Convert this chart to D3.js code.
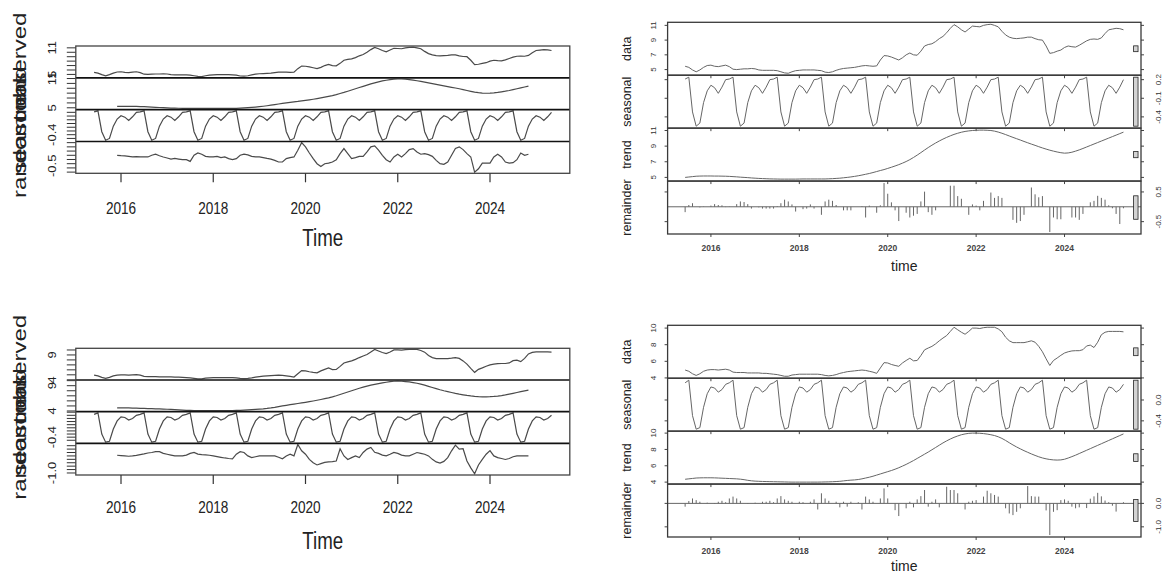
<!DOCTYPE html>
<html>
<head>
<meta charset="utf-8">
<title>decomposition</title>
<style>
  html, body { margin: 0; padding: 0; background: #fff; }
  svg { display: block; font-family: "Liberation Sans", Arial, sans-serif; }
</style>
</head>
<body>
<svg width="1164" height="573"></svg>
<script src="https://cdn.jsdelivr.net/npm/d3@7/dist/d3.min.js"></script>
<script>
// monthly series, first value is June 2015, last is May 2025
const startYear = 2015, startMonth = 6;
const maOffset = 6; // moving average trend / random start 6 months later

// ---- series A (top row) ----
const obsA = [
  5.45, 5.3, 4.95, 4.7, 4.95, 5.3, 5.55,
  5.6, 5.45, 5.4, 5.5, 5.6, 5.4, 5.05, 5.0, 5.05, 5.1, 5.1, 5.15,
  5.1, 4.95, 4.9, 4.9, 4.9, 4.9, 4.85, 4.7, 4.55, 4.5, 4.7, 4.85,
  4.9, 4.95, 4.95, 4.95, 4.95, 4.9, 4.85, 4.65, 4.6, 4.7, 4.9, 5.05,
  5.15, 5.2, 5.25, 5.3, 5.4, 5.5, 5.55, 5.5, 5.45, 5.5, 6.3, 6.9,
  6.85, 6.7, 6.5, 6.3, 6.6, 7.0, 7.25, 7.0, 6.95, 7.5, 8.2, 8.4,
  8.5, 8.8, 9.2, 9.5, 10.0, 10.6, 11.1, 10.8, 10.4, 10.1, 10.5, 10.9,
  10.85, 10.8, 11.0, 11.1, 11.15, 11.0, 10.8, 10.2, 9.7, 9.4, 9.25, 9.2,
  9.25, 9.3, 9.4, 9.4, 9.2, 9.05, 9.0, 8.2, 7.2, 7.3, 7.5, 7.65,
  8.0, 8.2, 8.1, 8.05, 8.3, 8.6, 8.9, 9.1, 9.15, 9.1, 9.3, 9.9,
  10.4, 10.5, 10.6, 10.55, 10.4
];
// seasonal figure, Jan..Dec
const seasA = [0.11, 0.07, -0.02, 0.08, 0.2, 0.21, 0.24, -0.32, -0.55, -0.5, -0.17, 0.02];
// decompose(): moving average trend and random, Dec 2015 .. Nov 2024
const maTrendA = [
  5.3,
  5.3, 5.3, 5.29, 5.28, 5.27, 5.25, 5.22, 5.18, 5.14, 5.1, 5.06, 5.02,
  4.98, 4.95, 4.93, 4.91, 4.9, 4.89, 4.88, 4.87, 4.86, 4.86, 4.86, 4.86,
  4.86, 4.86, 4.86, 4.86, 4.87, 4.88, 4.9, 4.93, 4.97, 5.02, 5.08, 5.15,
  5.23, 5.32, 5.42, 5.53, 5.65, 5.78, 5.9, 6.0, 6.1, 6.2, 6.3, 6.42,
  6.52, 6.63, 6.75, 6.88, 7.02, 7.17, 7.33, 7.5, 7.7, 7.92, 8.15, 8.4,
  8.65, 8.9, 9.15, 9.4, 9.65, 9.9, 10.12, 10.32, 10.5, 10.65, 10.78, 10.86,
  10.9, 10.9, 10.86, 10.78, 10.67, 10.54, 10.4, 10.25, 10.1, 9.95, 9.8, 9.65,
  9.5, 9.35, 9.2, 9.05, 8.9, 8.72, 8.55, 8.38, 8.22, 8.1, 8.02, 7.98,
  8.0, 8.06, 8.15, 8.27, 8.4, 8.55, 8.72, 8.9, 9.08, 9.26, 9.45
];
const randomA = [
  0.0,
  -0.02, -0.03, -0.05, -0.08, -0.06, -0.08, -0.08, -0.08, 0.0, 0.05, -0.02, -0.08,
  -0.13, -0.18, -0.15, -0.18, -0.21, -0.21, -0.29, 0.0, 0.11, 0.05, -0.05, -0.08,
  -0.08, -0.05, -0.11, -0.08, -0.16, -0.21, -0.16, 0.0, 0.05, 0.02, -0.05, -0.08,
  -0.08, -0.11, -0.15, -0.18, -0.24, -0.32, -0.32, -0.16, -0.11, -0.08, 0.24, 0.6,
  0.4, 0.11, -0.16, -0.4, -0.53, -0.4, -0.37, -0.32, -0.21, 0.08, 0.32, 0.08,
  -0.16, -0.11, -0.05, -0.05, 0.16, 0.4, 0.45, 0.24, 0.0, -0.21, -0.32, -0.08,
  0.05, -0.08, 0.08, 0.27, 0.32, 0.16, 0.05, 0.08, 0.03, -0.05, -0.24, -0.4,
  -0.43, -0.32, 0.0, 0.32, 0.4, 0.27, 0.08, -0.08, -0.8, -0.64, -0.37, -0.37,
  -0.37, -0.08, 0.05, -0.08, -0.32, -0.37, -0.35, -0.21, 0.11, 0.0, 0.05
];
// stl(): trend and remainder, full length
const stlTrendA = [
  5.0, 5.05, 5.1, 5.15, 5.17, 5.18, 5.18,
  5.18, 5.17, 5.17, 5.16, 5.15, 5.13, 5.1, 5.07, 5.03, 5.0, 4.97, 4.93,
  4.9, 4.87, 4.85, 4.83, 4.81, 4.8, 4.79, 4.78, 4.78, 4.78, 4.78, 4.78,
  4.79, 4.8, 4.8, 4.8, 4.8, 4.8, 4.8, 4.8, 4.82, 4.84, 4.87, 4.9,
  4.95, 5.0, 5.06, 5.13, 5.21, 5.3, 5.4, 5.5, 5.62, 5.75, 5.88, 6.0,
  6.15, 6.3, 6.46, 6.63, 6.82, 7.03, 7.27, 7.55, 7.85, 8.17, 8.5, 8.82,
  9.12, 9.4, 9.66, 9.9, 10.12, 10.32, 10.5, 10.65, 10.78, 10.88, 10.95, 11.0,
  11.03, 11.05, 11.05, 11.03, 11.0, 10.92, 10.8, 10.65, 10.48, 10.3, 10.12, 9.95,
  9.78, 9.6, 9.43, 9.26, 9.1, 8.93, 8.77, 8.62, 8.48, 8.36, 8.25, 8.16,
  8.1, 8.13, 8.22, 8.36, 8.52, 8.7, 8.89, 9.08, 9.27, 9.46, 9.65, 9.84,
  10.03, 10.22, 10.41, 10.6, 10.79
];
const stlRemA = [
  -0.18, 0.06, 0.12, 0.0, -0.02, 0.01, 0.0,
  0.04, 0.09, 0.06, 0.05, -0.01, 0.01, 0.0, 0.09, 0.18, 0.16, 0.09, -0.06,
  0.0, -0.02, -0.06, -0.06, -0.06, -0.06, 0.02, 0.12, 0.24, 0.18, 0.08, -0.16,
  0.0, -0.08, -0.06, 0.08, -0.06, 0.0, -0.27, 0.18, 0.24, 0.2, 0.06, 0.0,
  -0.12, -0.12, -0.12, 0.0, 0.0, 0.02, -0.36, 0.04, 0.0, -0.2, 0.05, 0.8,
  0.44, 0.15, -0.12, -0.48, 0.0, -0.2, -0.36, -0.3, -0.24, 0.18, 0.51, -0.18,
  -0.27, -0.12, 0.0, 0.0, 0.0, 0.71, 0.71, 0.36, 0.27, 0.0, -0.27, 0.08,
  0.04, -0.12, 0.2, 0.0, 0.48, 0.3, 0.36, 0.3, 0.0, 0.0, -0.44, -0.54,
  -0.48, -0.27, 0.0, 0.65, 0.42, 0.32, 0.36, 0.0, -0.85, -0.36, -0.42, -0.42,
  0.0, 0.0, -0.36, -0.36, -0.44, -0.24, 0.0, 0.15, 0.2, 0.37, 0.3, 0.24,
  0.05, -0.05, -0.24, -0.58, -0.05
];

// ---- series B (bottom row) ----
const obsB = [
  4.95, 4.8, 4.5, 4.3, 4.5, 4.8, 4.95,
  5.0, 5.0, 4.95, 5.0, 5.05, 4.95, 4.7, 4.65, 4.65, 4.65, 4.6, 4.6,
  4.6, 4.6, 4.55, 4.55, 4.5, 4.45, 4.4, 4.3, 4.2, 4.2, 4.35, 4.4,
  4.45, 4.45, 4.45, 4.45, 4.45, 4.45, 4.4, 4.3, 4.25, 4.3, 4.4, 4.55,
  4.65, 4.75, 4.8, 4.85, 4.9, 4.95, 4.9, 4.8, 4.7, 4.55, 5.2, 5.84,
  5.8, 5.62, 5.5, 5.4, 5.8, 6.1, 6.37, 6.06, 6.1, 6.7, 7.38, 7.6,
  7.8, 8.1, 8.47, 8.8, 9.1, 9.6, 10.1, 9.8, 9.5, 9.26, 9.6, 10.0,
  10.0, 9.95, 10.05, 10.1, 10.1, 10.1, 9.9, 9.56, 8.9, 8.47, 8.25, 8.25,
  8.25, 8.25, 8.35, 8.47, 8.3, 7.8, 7.15, 6.3, 5.5, 6.1, 6.4, 6.72,
  7.0, 7.15, 7.25, 7.28, 7.28, 7.4, 7.85, 7.95, 7.66, 8.3, 9.2, 9.5,
  9.6, 9.6, 9.6, 9.6, 9.55
];
const seasB = [0.25, 0.23, 0.15, 0.2, 0.3, 0.33, 0.38, -0.3, -0.56, -0.53, -0.14, 0.12];
const maTrendB = [
  4.63,
  4.63, 4.62, 4.6, 4.58, 4.56, 4.53, 4.5, 4.47, 4.45, 4.43, 4.41, 4.38,
  4.34, 4.3, 4.25, 4.2, 4.16, 4.13, 4.11, 4.1, 4.1, 4.1, 4.1, 4.1,
  4.1, 4.1, 4.1, 4.1, 4.1, 4.1, 4.11, 4.13, 4.16, 4.2, 4.25, 4.3,
  4.36, 4.42, 4.5, 4.6, 4.72, 4.86, 5.0, 5.12, 5.24, 5.36, 5.48, 5.6,
  5.72, 5.85, 5.98, 6.12, 6.27, 6.43, 6.6, 6.8, 7.02, 7.26, 7.5, 7.75,
  8.0, 8.25, 8.5, 8.72, 8.92, 9.1, 9.26, 9.4, 9.55, 9.68, 9.8, 9.88,
  9.9, 9.88, 9.82, 9.74, 9.62, 9.48, 9.3, 9.1, 8.88, 8.65, 8.42, 8.2,
  8.0, 7.82, 7.65, 7.48, 7.33, 7.2, 7.08, 6.98, 6.9, 6.84, 6.8, 6.8,
  6.82, 6.87, 6.95, 7.05, 7.17, 7.32, 7.48, 7.65, 7.82, 7.98, 8.12
];
const randomB = [
  0.04,
  0.02, 0.0, -0.02, 0.0, 0.03, 0.08, 0.12, 0.17, 0.2, 0.25, 0.25, 0.15,
  0.1, 0.05, 0.0, 0.0, 0.0, 0.05, 0.15, 0.21, 0.11, 0.08, 0.06, 0.04,
  0.0, -0.04, -0.08, -0.12, -0.15, -0.17, 0.1, 0.25, 0.2, 0.0, -0.1, -0.05,
  0.0, 0.0, 0.0, 0.0, 0.0, -0.08, -0.17, 0.0, 0.1, 0.0, 0.67, 0.3,
  0.1, -0.2, -0.4, -0.53, -0.45, -0.38, -0.35, -0.33, -0.3, 0.42, 0.0, -0.21,
  -0.1, 0.0, -0.1, 0.2, 0.4, 0.5, 0.21, 0.15, 0.05, 0.0, 0.1, 0.21,
  0.15, 0.05, 0.0, 0.0, 0.1, 0.2, 0.15, 0.1, 0.0, -0.2, -0.35, -0.42,
  -0.32, -0.1, 0.3, 0.63, 0.4, 0.42, -0.3, -0.7, -1.05, -0.53, -0.2, 0.1,
  0.31, 0.0, -0.1, -0.15, -0.21, -0.15, -0.05, 0.0, 0.0, 0.0, 0.0
];
const stlTrendB = [
  4.35, 4.4, 4.45, 4.5, 4.52, 4.53, 4.53,
  4.53, 4.52, 4.5, 4.48, 4.46, 4.44, 4.42, 4.4, 4.36, 4.3, 4.22, 4.16,
  4.12, 4.1, 4.08, 4.07, 4.06, 4.05, 4.04, 4.03, 4.02, 4.01, 4.0, 4.0,
  4.0, 4.0, 4.0, 4.0, 4.0, 4.0, 4.01, 4.02, 4.03, 4.05, 4.07, 4.1,
  4.15, 4.2, 4.24, 4.27, 4.32, 4.4, 4.5, 4.6, 4.72, 4.86, 5.0, 5.14,
  5.28, 5.42, 5.58, 5.76, 5.96, 6.17, 6.4, 6.64, 6.9, 7.16, 7.42, 7.68,
  7.96, 8.24, 8.52, 8.8, 9.05, 9.28, 9.48, 9.65, 9.8, 9.9, 9.97, 10.0,
  10.0, 9.98, 9.94, 9.88, 9.8, 9.7, 9.55, 9.35, 9.1, 8.82, 8.55, 8.3,
  8.07, 7.85, 7.65, 7.45, 7.27, 7.1, 6.96, 6.85, 6.77, 6.72, 6.7, 6.72,
  6.8, 6.95, 7.12, 7.3, 7.5, 7.7, 7.9, 8.1, 8.3, 8.5, 8.7, 8.9,
  9.1, 9.3, 9.5, 9.7, 9.9
];
const stlRemB = [
  -0.14, 0.1, 0.21, 0.14, 0.07, 0.0, 0.03,
  0.0, -0.02, 0.07, 0.11, 0.05, 0.21, 0.29, 0.21, 0.11, 0.0, -0.02, 0.0,
  0.03, 0.0, 0.07, 0.07, 0.11, 0.05, 0.21, 0.31, 0.17, 0.11, 0.07, 0.0,
  0.07, 0.05, 0.0, 0.07, 0.17, -0.26, 0.43, 0.21, 0.11, 0.0, 0.07, -0.17,
  0.07, -0.14, 0.07, 0.0, 0.05, -0.26, 0.29, 0.17, 0.07, 0.0, 0.21, 0.64,
  0.21, 0.0, -0.29, -0.54, 0.0, -0.21, 0.07, -0.17, 0.17, 0.31, 0.57, -0.14,
  0.07, 0.17, -0.17, 0.0, 0.71, 0.57, 0.57, 0.43, 0.0, -0.26, 0.07, 0.11,
  0.14, 0.0, 0.29, 0.54, 0.43, 0.36, 0.29, 0.0, -0.21, -0.43, -0.5, -0.36,
  -0.21, 0.0, 0.74, 0.31, 0.29, 0.29, 0.0, -0.3, -1.35, -0.36, -0.29, 0.14,
  0.17, 0.11, -0.14, -0.21, -0.17, 0.0, -0.2, 0.2, 0.3, 0.45, 0.3, 0.12,
  0.05, -0.1, -0.35, 0.0, 0.05
];

// ---- axis labels ----
const yearTicks = [2016, 2018, 2020, 2022, 2024];
const decompNames = ['observed', 'trend', 'seasonal', 'random'];
const stlNames = ['data', 'seasonal', 'trend', 'remainder'];
// labelled y ticks per panel, as printed
const decompLabelsA = [['5', '11'], ['5', '11'], ['-0.4'], ['-0.5']];
const decompLabelsB = [['4', '9'], ['4', '9'], ['-0.4'], ['-1.0']];
const stlLabelsA = [['5', '7', '9', '11'], ['-0.4', '-0.1', '0.2'], ['5', '7', '9', '11'], ['-0.5', '0.5']];
const stlLabelsB = [['4', '6', '8', '10'], ['-0.4', '0.0'], ['4', '6', '8', '10'], ['-1.0', '0.0']];

const svg = d3.select('svg');
const timeOf = i => startYear + (startMonth - 1) / 12 + i / 12;
const tile = (pat, n) => d3.range(n).map(i => pat[(startMonth - 1 + i) % 12]);
const pad = ext => { const d = (ext[1] - ext[0]) * 0.04; return [ext[0] - d, ext[1] + d]; };

function rotText(g, x, y, txt, size, sx) {
  return g.append('text')
    .attr('transform', `translate(${x},${y}) scale(${sx},1) rotate(-90)`)
    .attr('text-anchor', 'middle')
    .attr('dominant-baseline', 'central')
    .attr('font-size', size)
    .text(txt);
}
function flatText(g, x, y, txt, size, sx) {
  return g.append('text')
    .attr('transform', `translate(${x},${y}) scale(${sx},1)`)
    .attr('text-anchor', 'middle')
    .attr('dominant-baseline', 'central')
    .attr('font-size', size)
    .text(txt);
}

// left plots: decompose() output drawn by plot.ts
function drawDecompose(box, obs, seas, trend, random, labels) {
  const g = svg.append('g').attr('fill', '#222');
  const n = obs.length;
  const x = d3.scaleLinear().domain(pad([timeOf(0), timeOf(n - 1)])).range([box.left, box.right]);
  const comps = [
    { vals: obs, off: 0 },
    { vals: trend, off: maOffset },
    { vals: tile(seas, n), off: 0 },
    { vals: random, off: maOffset }
  ];
  const h = (box.bottom - box.top) / comps.length;
  comps.forEach((c, k) => {
    const y0 = box.top + k * h, y1 = y0 + h;
    const y = d3.scaleLinear().domain(pad(d3.extent(c.vals))).range([y1, y0]);
    g.append('path')
      .datum(c.vals)
      .attr('fill', 'none')
      .attr('stroke', '#4a4a4a')
      .attr('stroke-width', 1.2)
      .attr('d', d3.line().x((v, i) => x(timeOf(i + c.off))).y(v => y(v)));
    g.selectAll(null)
      .data(y.ticks(8))
      .join('line')
      .attr('x1', box.left - 9).attr('x2', box.left)
      .attr('y1', d => y(d)).attr('y2', d => y(d))
      .attr('stroke', '#333').attr('stroke-width', 1);
    labels[k].forEach(s => rotText(g, box.tickX, y(+s), s, 13, 0.8));
    rotText(g, box.nameX, (y0 + y1) / 2, decompNames[k], 24, 0.8);
    if (k > 0) {
      g.append('line')
        .attr('x1', box.left).attr('x2', box.right)
        .attr('y1', y0).attr('y2', y0)
        .attr('stroke', '#111').attr('stroke-width', 1.6);
    }
  });
  g.append('rect')
    .attr('x', box.left).attr('y', box.top)
    .attr('width', box.right - box.left).attr('height', box.bottom - box.top)
    .attr('fill', 'none').attr('stroke', '#444').attr('stroke-width', 1.3);
  yearTicks.forEach(t => {
    g.append('line')
      .attr('x1', x(t)).attr('x2', x(t))
      .attr('y1', box.bottom).attr('y2', box.bottom + 9)
      .attr('stroke', '#333').attr('stroke-width', 1.2);
    flatText(g, x(t), box.yearY, t, 17, 0.8);
  });
  flatText(g, (box.left + box.right) / 2, box.titleY, 'Time', 24, 0.78);
}

// right plots: stl() output drawn by plot.stl
function drawStl(box, obs, seas, trend, rem, labels) {
  const g = svg.append('g').attr('fill', '#333');
  const n = obs.length;
  const x = d3.scaleLinear().domain(pad([timeOf(0), timeOf(n - 1)])).range([box.left, box.right]);
  const comps = [obs, tile(seas, n), trend, rem];
  const mx = d3.min(comps, c => d3.max(c) - d3.min(c));
  const dx = (box.right - box.left) / 64;
  const h = (box.bottom - box.top) / comps.length;
  comps.forEach((vals, k) => {
    const y0 = box.top + k * h, y1 = y0 + h;
    const ext = d3.extent(vals);
    const y = d3.scaleLinear().domain(pad(ext)).range([y1, y0]);
    if (k < 3) {
      g.append('path')
        .datum(vals)
        .attr('fill', 'none')
        .attr('stroke', '#666')
        .attr('stroke-width', 1)
        .attr('d', d3.line().x((v, i) => x(timeOf(i))).y(v => y(v)));
    } else {
      g.append('line')
        .attr('x1', box.left).attr('x2', box.right)
        .attr('y1', y(0)).attr('y2', y(0))
        .attr('stroke', '#666').attr('stroke-width', 1);
      g.selectAll(null)
        .data(vals)
        .join('line')
        .attr('x1', (v, i) => x(timeOf(i))).attr('x2', (v, i) => x(timeOf(i)))
        .attr('y1', y(0)).attr('y2', v => y(v))
        .attr('stroke', '#666').attr('stroke-width', 1);
    }
    // range bar
    const mid = (ext[0] + ext[1]) / 2;
    g.append('rect')
      .attr('x', box.right - dx).attr('width', 0.6 * dx)
      .attr('y', y(mid + mx / 2)).attr('height', y(mid - mx / 2) - y(mid + mx / 2))
      .attr('fill', '#d3d3d3').attr('stroke', '#222').attr('stroke-width', 0.8);
    // y axes on both sides, labels alternate
    const right = k % 2 === 1;
    labels[k].forEach(s => {
      const v = +s;
      g.append('line').attr('x1', box.left - 3).attr('x2', box.left)
        .attr('y1', y(v)).attr('y2', y(v)).attr('stroke', '#444');
      g.append('line').attr('x1', box.right).attr('x2', box.right + 3)
        .attr('y1', y(v)).attr('y2', y(v)).attr('stroke', '#444');
      rotText(g, right ? box.rightLabX : box.leftLabX, y(v), s, 8, 1);
    });
    // x ticks under every panel
    yearTicks.forEach(t => {
      g.append('line').attr('x1', x(t)).attr('x2', x(t))
        .attr('y1', y1).attr('y2', y1 + 3).attr('stroke', '#444');
    });
    g.append('rect')
      .attr('x', box.left).attr('y', y0)
      .attr('width', box.right - box.left).attr('height', h)
      .attr('fill', 'none').attr('stroke', '#3a3a3a').attr('stroke-width', 1.3);
    rotText(g, box.nameX, (y0 + y1) / 2, stlNames[k], 12.5, 1).attr('fill', '#222');
  });
  yearTicks.forEach(t => flatText(g, x(t), box.yearY, t, 8.5, 1).attr('font-weight', 'bold').attr('fill', '#444'));
  flatText(g, (box.left + box.right) / 2, box.titleY, 'time', 14, 1).attr('fill', '#222');
}

drawDecompose({ left: 75.8, right: 569.8, top: 46, bottom: 173.3, nameX: 19, tickX: 52, yearY: 208, titleY: 238 },
  obsA, seasA, maTrendA, randomA, decompLabelsA);
drawDecompose({ left: 75.8, right: 569.8, top: 348.3, bottom: 475, nameX: 19, tickX: 52, yearY: 507, titleY: 541 },
  obsB, seasB, maTrendB, randomB, decompLabelsB);
drawStl({ left: 667.6, right: 1141, top: 22.3, bottom: 234, nameX: 627, leftLabX: 653, rightLabX: 1158, yearY: 248, titleY: 266 },
  obsA, seasA, stlTrendA, stlRemA, stlLabelsA);
drawStl({ left: 667.6, right: 1141, top: 325.3, bottom: 537, nameX: 627, leftLabX: 653, rightLabX: 1158, yearY: 551, titleY: 566 },
  obsB, seasB, stlTrendB, stlRemB, stlLabelsB);
</script>
</body>
</html>
